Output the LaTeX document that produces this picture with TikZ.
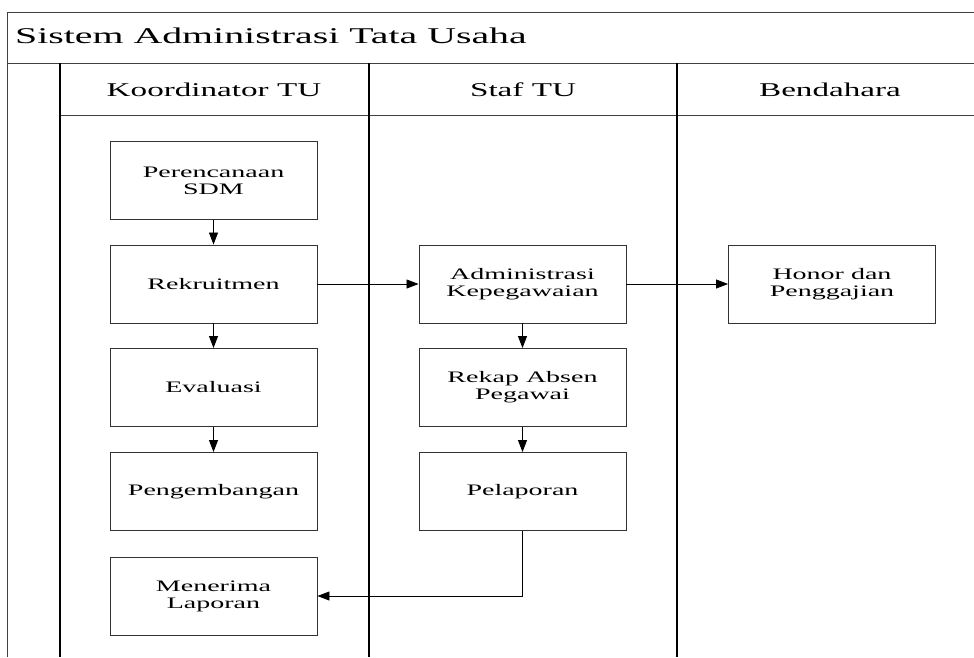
\documentclass[tikz,border=0pt]{standalone}
\usepackage{fontspec}
\setmainfont{Liberation Serif}
\newfontfamily\titlefont[FakeStretch=1.77]{Liberation Serif}
\newfontfamily\headfont[FakeStretch=1.7]{Liberation Serif}
\newfontfamily\boxfont[FakeStretch=1.75]{Liberation Serif}
\usetikzlibrary{arrows.meta}
\begin{document}
\begin{tikzpicture}[x=1pt,y=-1pt,
  frame/.style={draw=black!75,line width=0.9pt},
  lane/.style={draw=black,line width=1.1pt},
  procbox/.style={draw=black!80,line width=0.9pt,minimum width=207pt,minimum height=78pt,inner sep=0pt,align=center,
     font=\boxfont\fontsize{16}{17}\selectfont},
  flow/.style={draw=black,line width=0.8pt,-{Triangle[length=12pt,width=9pt]}},
  headtxt/.style={font=\headfont\fontsize{19.5}{20}\selectfont,anchor=center}]
\useasboundingbox (0,0) rectangle (974,657);
\fill[white] (0,0) rectangle (974,657);
% frame
\draw[frame] (974,12) -- (7,12) -- (7,657);
\draw[frame] (7,63) -- (974,63);
\draw[frame] (60,115) -- (974,115);
\draw[lane] (60,63) -- (60,657);
\draw[lane] (369,63) -- (369,657);
\draw[lane] (677,63) -- (677,657);
% title and headers
\node[font=\titlefont\fontsize{22.5}{24}\selectfont,anchor=base west,inner sep=0pt] (title) at (15,43) {Sistem Administrasi Tata Usaha};
\node[headtxt] (h1) at (214,90) {Koordinator TU};
\node[headtxt] (h2) at (523,90) {Staf TU};
\node[headtxt] (h3) at (830,90) {Bendahara};
% boxes
\node[procbox] (p1) at (213.5,180.5) {Perencanaan\\SDM};
\node[procbox] (p2) at (213.5,284) {Rekruitmen};
\node[procbox] (p3) at (213.5,387.5) {Evaluasi};
\node[procbox] (p4) at (213.5,491.5) {Pengembangan};
\node[procbox] (p5) at (213.5,596) {Menerima\\Laporan};
\node[procbox] (s1) at (522.5,284) {Administrasi\\Kepegawaian};
\node[procbox] (s2) at (522.5,387.5) {Rekap Absen\\Pegawai};
\node[procbox] (s3) at (522.5,491.5) {Pelaporan};
\node[procbox] (b1) at (832,284) {Honor dan\\Penggajian};
% connectors
\draw[flow] (p1) -- (p2);
\draw[flow] (p2) -- (p3);
\draw[flow] (p3) -- (p4);
\draw[flow] (p2) -- (s1);
\draw[flow] (s1) -- (b1);
\draw[flow] (s1) -- (s2);
\draw[flow] (s2) -- (s3);
\draw[flow] (s3.south) |- (p5.east);
\end{tikzpicture}
\end{document}
